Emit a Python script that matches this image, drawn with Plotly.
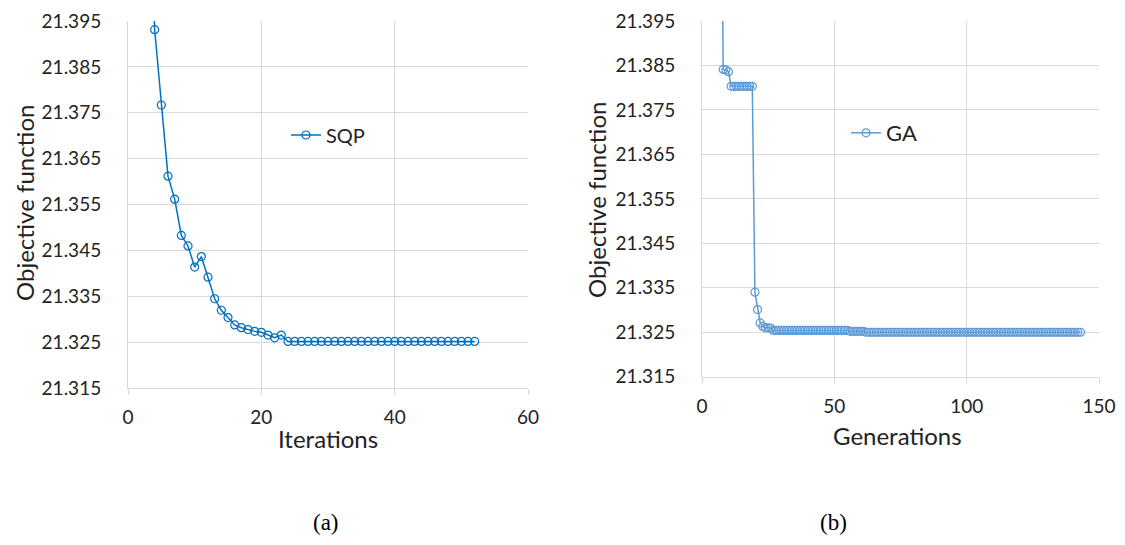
import plotly.graph_objects as go

# ---------------- data ----------------
sqp_iter = list(range(1, 53))
sqp_obj = [
    21.6000, 21.5000, 21.4330, 21.3931, 21.3767, 21.3612, 21.3562, 21.3483, 21.3460, 21.3414,
    21.3437, 21.3392, 21.3345, 21.3320, 21.3304, 21.3288, 21.3282, 21.3278, 21.3274, 21.3272,
    21.3266, 21.3260, 21.3266, 21.3252, 21.3252, 21.3252, 21.3252, 21.3252, 21.3252, 21.3252,
    21.3252, 21.3252, 21.3252, 21.3252, 21.3252, 21.3252, 21.3252, 21.3252, 21.3252, 21.3252,
    21.3252, 21.3252, 21.3252, 21.3252, 21.3252, 21.3252, 21.3252, 21.3252, 21.3252, 21.3252,
    21.3252, 21.3252,
]

ga_gen = list(range(1, 144))
ga_obj = [
    21.6200, 21.5800, 21.5500, 21.5200, 21.5000, 21.4800, 21.4560, 21.3841, 21.3840, 21.3836,
    21.3803, 21.3803, 21.3803, 21.3803, 21.3803, 21.3803, 21.3803, 21.3803, 21.3803, 21.3340,
    21.3301, 21.3271, 21.3263, 21.3260, 21.3260, 21.3259, 21.3254, 21.3254, 21.3254, 21.3254,
    21.3254, 21.3254, 21.3254, 21.3254, 21.3254, 21.3254, 21.3254, 21.3254, 21.3254, 21.3254,
    21.3254, 21.3254, 21.3254, 21.3254, 21.3254, 21.3254, 21.3254, 21.3254, 21.3254, 21.3254,
    21.3254, 21.3254, 21.3254, 21.3254, 21.3254, 21.3252, 21.3252, 21.3252, 21.3252, 21.3252,
    21.3252, 21.3250, 21.3250, 21.3250, 21.3250, 21.3250, 21.3250, 21.3250, 21.3250, 21.3250,
    21.3250, 21.3250, 21.3250, 21.3250, 21.3250, 21.3250, 21.3250, 21.3250, 21.3250, 21.3250,
    21.3250, 21.3250, 21.3250, 21.3250, 21.3250, 21.3250, 21.3250, 21.3250, 21.3250, 21.3250,
    21.3250, 21.3250, 21.3250, 21.3250, 21.3250, 21.3250, 21.3250, 21.3250, 21.3250, 21.3250,
    21.3250, 21.3250, 21.3250, 21.3250, 21.3250, 21.3250, 21.3250, 21.3250, 21.3250, 21.3250,
    21.3250, 21.3250, 21.3250, 21.3250, 21.3250, 21.3250, 21.3250, 21.3250, 21.3250, 21.3250,
    21.3250, 21.3250, 21.3250, 21.3250, 21.3250, 21.3250, 21.3250, 21.3250, 21.3250, 21.3250,
    21.3250, 21.3250, 21.3250, 21.3250, 21.3250, 21.3250, 21.3250, 21.3250, 21.3250, 21.3250,
    21.3250, 21.3250, 21.3250,
]

y_ticks = [21.315, 21.325, 21.335, 21.345, 21.355, 21.365, 21.375, 21.385, 21.395]
x_ticks_a = [0, 20, 40, 60]
x_ticks_b = [0, 50, 100, 150]

# ---------------- styling ----------------
# The page body has an 8px margin, so the figure is sized to fill the
# 1125x545 window exactly and positions are measured in window pixels.
OFF = 8
W, H = 1125 - 2 * OFF, 545 - 2 * OFF
GRID = "#D9D9D9"
TXT = "#222222"
FONT = "Lato, Carlito, 'Open Sans', sans-serif"
SERIF = "'Liberation Serif', 'Times New Roman', serif"


def px(xp):
    return (xp - OFF) / W


def py(yp):
    return 1 - (yp - OFF) / H


fig = go.Figure()

fig.add_trace(go.Scatter(
    x=sqp_iter, y=sqp_obj, name="SQP", mode="lines+markers",
    line=dict(color="#0070C0", width=1.5),
    marker=dict(symbol="circle-open", size=8, color="#0070C0", line=dict(width=1.2)),
    xaxis="x", yaxis="y", legend="legend",
))
fig.add_trace(go.Scatter(
    x=ga_gen, y=ga_obj, name="GA", mode="lines+markers",
    line=dict(color="#5B9BD5", width=1.5),
    marker=dict(symbol="circle-open", size=8, color="#5B9BD5", line=dict(width=1.2)),
    xaxis="x2", yaxis="y2", legend="legend2",
))

yr = [y_ticks[0] - 1e-7, y_ticks[-1] + 1e-7]
common_x = dict(showgrid=True, gridcolor=GRID, gridwidth=1, showline=True, linecolor=GRID,
                linewidth=1, ticks="outside", ticklen=6, tickcolor=GRID, zeroline=False,
                automargin=False,
                tickfont=dict(family=FONT, size=19, color=TXT), ticklabelstandoff=6)
common_y = dict(showgrid=True, gridcolor=GRID, gridwidth=1, showline=True, linecolor=GRID,
                linewidth=1, ticks="", zeroline=False, range=yr, tickvals=y_ticks,
                automargin=False,
                tickformat=".3f", tickfont=dict(family=FONT, size=19, color=TXT),
                ticklabelstandoff=22)

fig.update_layout(
    width=W, height=H,
    margin=dict(l=0, r=0, t=0, b=0, autoexpand=False),
    paper_bgcolor="white", plot_bgcolor="white",
    xaxis=dict(domain=[px(128), px(528)], range=[0, 60], tickvals=x_ticks_a, anchor="y", **common_x),
    yaxis=dict(domain=[py(388.3), py(21)], anchor="x", **common_y),
    xaxis2=dict(domain=[px(702), px(1099)], range=[0, 150], tickvals=x_ticks_b, anchor="y2", **common_x),
    yaxis2=dict(domain=[py(376.7), py(21)], anchor="x2", **common_y),
    legend=dict(x=px(286), y=py(135), xanchor="left", yanchor="middle", bgcolor="rgba(0,0,0,0)",
                font=dict(family=FONT, size=20, color=TXT), itemwidth=30),
    legend2=dict(x=px(846), y=py(133), xanchor="left", yanchor="middle", bgcolor="rgba(0,0,0,0)",
                 font=dict(family=FONT, size=22, color=TXT), itemwidth=30),
    showlegend=True,
)

ann = [
    dict(text="Objective function", x=px(25), y=py(203), textangle=-90, size=24, fam=FONT),
    dict(text="Objective function", x=px(596), y=py(200), textangle=-90, size=24, fam=FONT),
    dict(text="Iterations", x=px(328), y=py(438), textangle=0, size=24, fam=FONT),
    dict(text="Generations", x=px(897), y=py(435), textangle=0, size=24, fam=FONT),
    dict(text="(a)", x=px(326), y=py(522), textangle=0, size=23, fam=SERIF),
    dict(text="(b)", x=px(833), y=py(522), textangle=0, size=23, fam=SERIF),
]
for a in ann:
    fig.add_annotation(text=a["text"], x=a["x"], y=a["y"], xref="paper", yref="paper",
                       xanchor="center", yanchor="middle", showarrow=False, textangle=a["textangle"],
                       font=dict(family=a["fam"], size=a["size"], color="#000000" if a["fam"] == SERIF else TXT))

fig.write_html("out.html")
